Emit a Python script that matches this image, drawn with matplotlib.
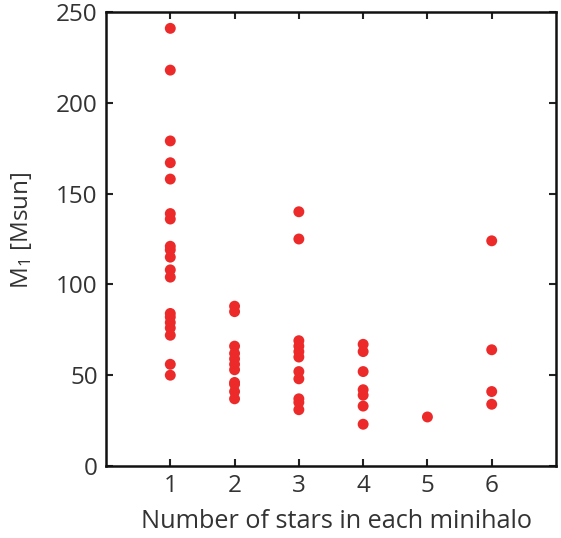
import matplotlib
matplotlib.use("Agg")
import matplotlib.pyplot as plt

plt.rcParams['font.family'] = ['Open Sans', 'DejaVu Sans']
plt.rcParams['mathtext.default'] = 'regular'

# Data: number of stars per minihalo and primary mass M1 [Msun]
n1 = [241, 218, 179, 167, 158, 139, 136, 121, 119, 115, 108, 104, 84, 82, 79, 76, 72, 56, 50]
n2 = [88, 85, 66, 62, 59, 56, 53, 46, 45, 41, 37]
n3 = [140, 125, 69, 66, 63, 60, 52, 48, 37, 35, 31]
n4 = [67, 63, 52, 42, 39, 33, 23]
n5 = [27]
n6 = [124, 64, 41, 34]
groups = [1, 2, 3, 4, 5, 6]
masses = [n1, n2, n3, n4, n5, n6]

xticks = [1, 2, 3, 4, 5, 6]
yticks = [0, 50, 100, 150, 200, 250]

fig = plt.figure(figsize=(5.61, 5.38), dpi=100)
ax = fig.add_axes([106/561, 72/538, 450/561, 454/538])

for g, m in zip(groups, masses):
    ax.scatter([g] * len(m), m, s=62, color='#EC2A2A', edgecolors='none', zorder=3)

ax.set_xlim(0, 7)
ax.set_ylim(0, 250)
ax.set_xticks(xticks)
ax.set_yticks(yticks)
ax.tick_params(direction='in', length=5, width=1.5, top=True, right=True,
               labelsize=17.5, colors='#222222', labelcolor='#333333')
ax.tick_params(axis='y', pad=6)
ax.tick_params(axis='x', pad=6)
for sp in ax.spines.values():
    sp.set_linewidth(1.8)
    sp.set_color('#111111')

ax.set_xlabel('Number of stars in each minihalo', fontsize=18.2, color='#333333')
ax.xaxis.set_label_coords(0.513, -0.095)
ax.xaxis.label.set_va('top')
ax.set_ylabel('M$_1$ [Msun]', fontsize=17.5, color='#333333')
ax.yaxis.set_label_coords(-0.16, 0.52)

fig.savefig('out.png', dpi=100)
